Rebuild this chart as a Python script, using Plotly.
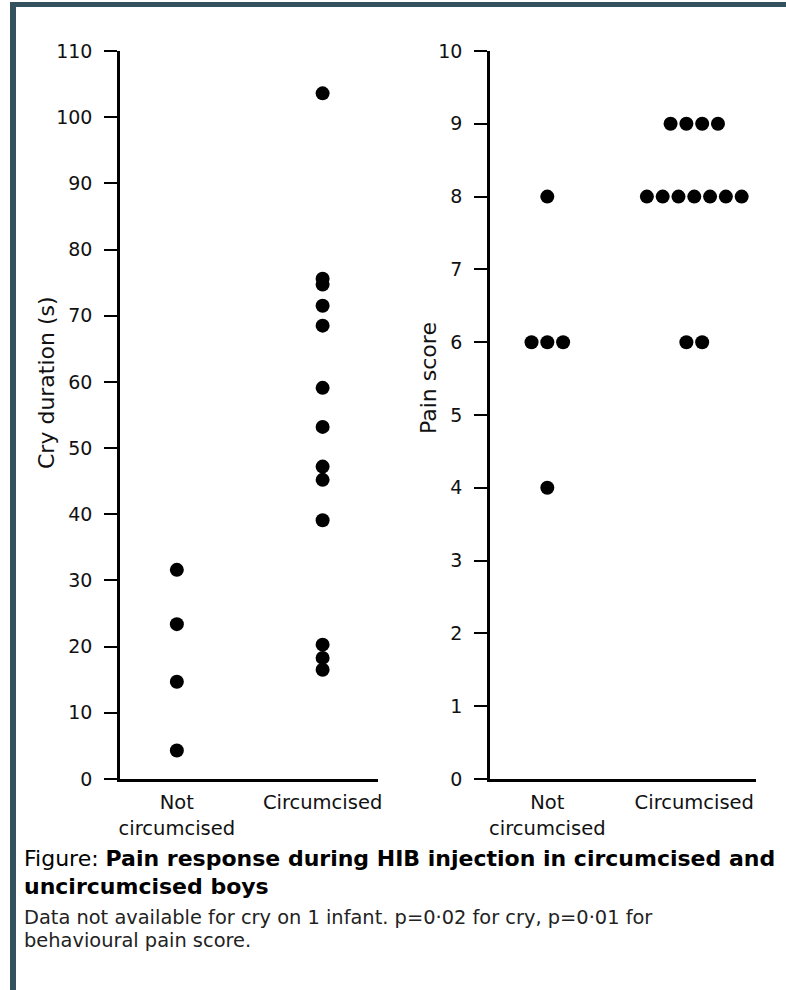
import plotly.graph_objects as go
from collections import Counter

# ---------------- data ----------------
categories = ["Not circumcised", "Circumcised"]
category_labels = ["Not<br>circumcised", "Circumcised"]

cry_not_circumcised = [31.6, 23.4, 14.7, 4.3]
cry_circumcised = [103.6, 75.6, 74.7, 71.5, 68.5, 59.1, 53.2, 47.2, 45.2, 39.1, 20.3, 18.3, 16.5]

pain_not_circumcised = [8, 6, 6, 6, 4]
pain_circumcised = [9, 9, 9, 9, 8, 8, 8, 8, 8, 8, 8, 6, 6]

cry_ticks = list(range(0, 111, 10))
pain_ticks = list(range(0, 11, 1))

cry_title = "Cry duration (s)"
pain_title = "Pain score"

caption_line1_regular = "Figure: "
caption_line1_bold = "Pain response during HIB injection in circumcised and"
caption_line2_bold = "uncircumcised boys"
caption_line3 = "Data not available for cry on 1 infant. p=0·02 for cry, p=0·01 for"
caption_line4 = "behavioural pain score."

# ---------------- layout constants ----------------
W, H = 786, 990
FONT = "DejaVu Sans"
CAP_FONT = "DejaVu Sans, Verdana, sans-serif"
BORDER = "#34515F"


def px_x(p):
    return p / W


def px_y(p):
    return 1 - p / H


def dot_positions(values, center, step):
    """Dot-plot layout: equal values are spread side by side around the category centre."""
    counts = Counter(values)
    seen = Counter()
    xs = []
    for v in values:
        n = counts[v]
        i = seen[v]
        seen[v] += 1
        xs.append(center + (i - (n - 1) / 2) * step)
    return xs


fig = go.Figure()

marker = dict(color="black", size=14, line=dict(width=0))

# left panel: cry duration
for ci, vals in enumerate([cry_not_circumcised, cry_circumcised]):
    fig.add_trace(go.Scatter(
        x=[ci] * len(vals), y=vals, mode="markers", marker=marker,
        name=categories[ci], showlegend=False, xaxis="x", yaxis="y",
        hovertemplate=categories[ci] + ": %{y} s<extra></extra>"))

# right panel: pain score (dot plot)
STEP = 0.1075
for ci, vals in enumerate([pain_not_circumcised, pain_circumcised]):
    fig.add_trace(go.Scatter(
        x=dot_positions(vals, ci, STEP), y=vals, mode="markers", marker=marker,
        name=categories[ci], showlegend=False, xaxis="x2", yaxis="y2",
        hovertemplate=categories[ci] + ": %{y}<extra></extra>"))

y_bottom = px_y(779)
y_top = px_y(51)

common_y = dict(
    showline=True, linecolor="black", linewidth=2.5, ticks="outside", ticklen=13,
    tickwidth=2, tickcolor="black", showgrid=False, zeroline=False, automargin=False,
    tickfont=dict(family=FONT, size=19, color="#111"), ticklabelstandoff=8,
    domain=[y_bottom, y_top],
)
common_x = dict(
    showline=True, linecolor="black", linewidth=2.5, ticks="", showgrid=False,
    zeroline=False, automargin=False, tickmode="array", tickvals=[0, 1], ticktext=category_labels,
    tickfont=dict(family=FONT, size=19.5, color="#111"), ticklabelstandoff=4,
)

fig.update_layout(
    width=W, height=H,
    margin=dict(l=0, r=0, t=0, b=0, autoexpand=False),
    paper_bgcolor="white", plot_bgcolor="white",
    showlegend=False,
    xaxis=dict(common_x, domain=[px_x(120), px_x(378)], range=[-0.39, 1.38], anchor="y"),
    yaxis=dict(common_y, range=[0, 110], tickvals=cry_ticks, anchor="x"),
    xaxis2=dict(common_x, domain=[px_x(490), px_x(756)], range=[-0.39, 1.42], anchor="y2"),
    yaxis2=dict(common_y, range=[0, 10], tickvals=pain_ticks, anchor="x2"),
)

# axis titles (placed as in the original figure, slightly above the axis middle)
fig.add_annotation(xref="paper", yref="paper", x=px_x(47), y=px_y(383), textangle=-90,
                   showarrow=False, text=cry_title, xanchor="center", yanchor="middle",
                   font=dict(family=FONT, size=22, color="#111"))
fig.add_annotation(xref="paper", yref="paper", x=px_x(428), y=px_y(378), textangle=-90,
                   showarrow=False, text=pain_title, xanchor="center", yanchor="middle",
                   font=dict(family=FONT, size=22, color="#111"))

# frame (left and top rules)
fig.add_shape(type="rect", xref="paper", yref="paper",
              x0=px_x(10), x1=px_x(16), y0=0, y1=px_y(2),
              fillcolor=BORDER, line=dict(width=0), layer="above")
fig.add_shape(type="rect", xref="paper", yref="paper",
              x0=px_x(10), x1=1, y0=px_y(7), y1=px_y(2),
              fillcolor=BORDER, line=dict(width=0), layer="above")

# caption
cap_x = px_x(22)
fig.add_annotation(xref="paper", yref="paper", x=cap_x, y=px_y(858), xanchor="left", yanchor="middle",
                   showarrow=False, align="left",
                   text=caption_line1_regular + "<b>" + caption_line1_bold + "</b>",
                   font=dict(family=CAP_FONT, size=22, color="black"))
fig.add_annotation(xref="paper", yref="paper", x=cap_x, y=px_y(886), xanchor="left", yanchor="middle",
                   showarrow=False, align="left", text="<b>" + caption_line2_bold + "</b>",
                   font=dict(family=CAP_FONT, size=22, color="black"))
fig.add_annotation(xref="paper", yref="paper", x=cap_x, y=px_y(917), xanchor="left", yanchor="middle",
                   showarrow=False, align="left", text=caption_line3,
                   font=dict(family=CAP_FONT, size=19.4, color="#222"))
fig.add_annotation(xref="paper", yref="paper", x=cap_x, y=px_y(940), xanchor="left", yanchor="middle",
                   showarrow=False, align="left", text=caption_line4,
                   font=dict(family=CAP_FONT, size=19.4, color="#222"))

fig.write_html("out.html", config={"displayModeBar": False},
               post_script="document.body.style.margin='0';")
